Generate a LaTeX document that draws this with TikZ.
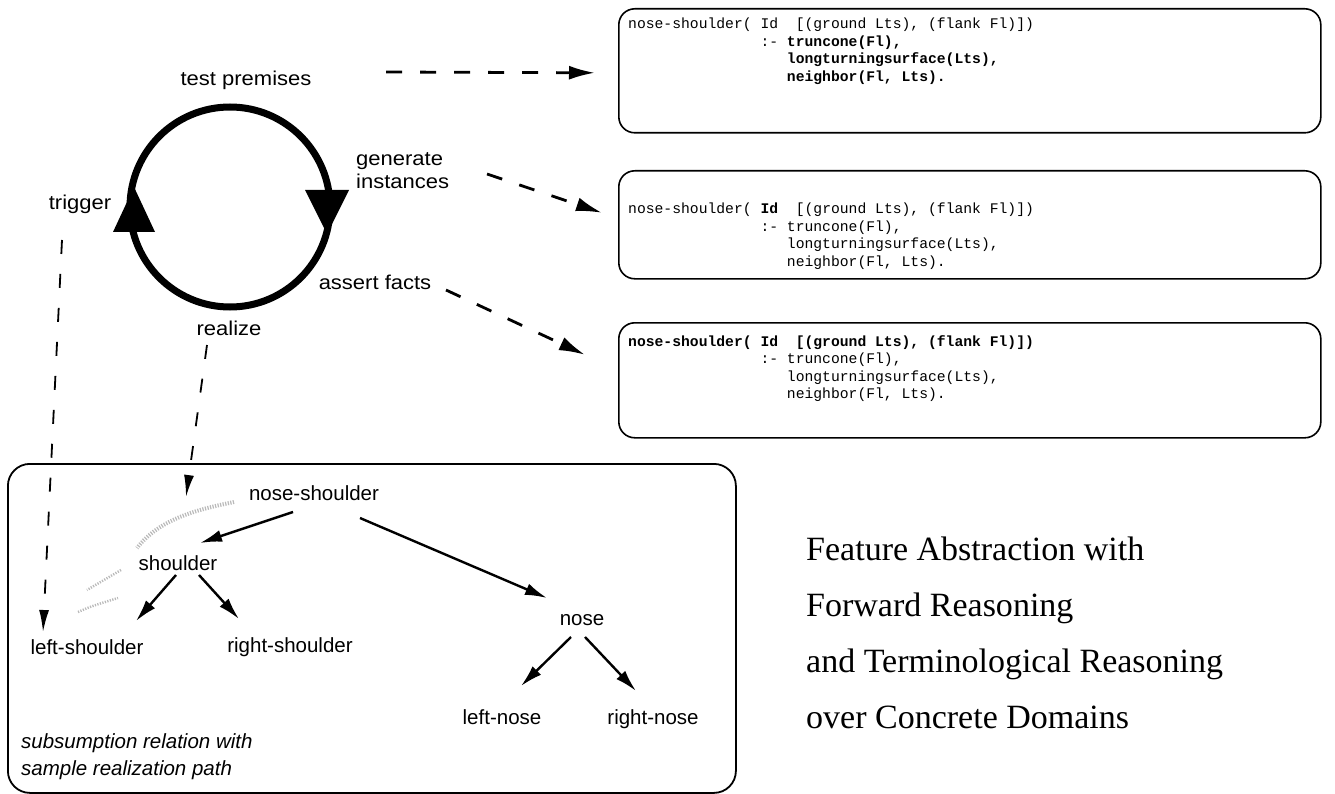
\documentclass[tikz,border=0pt]{standalone}
\usepackage{fontspec}
\setmainfont{Liberation Serif}
\setsansfont{Liberation Sans}
\setmonofont{Liberation Mono}
\newfontfamily\cyclefont[FakeStretch=1.1]{Liberation Sans}
\usetikzlibrary{arrows.meta,calc}

\begin{document}
\begin{tikzpicture}[x=1pt,y=-1pt,
  lbl/.style={font=\cyclefont\fontsize{20}{23}\selectfont, inner sep=0pt},
  tlbl/.style={font=\sffamily\fontsize{20.5}{24}\selectfont, inner sep=0pt},
  code/.style={font=\ttfamily\fontsize{14.7}{17.7}\selectfont, anchor=base west, inner sep=0pt},
  ttl/.style={font=\rmfamily\fontsize{34}{56}\selectfont, anchor=base west, inner sep=0pt},
  rulebox/.style={draw, line width=1.6pt, rounded corners=16pt, minimum width=702pt,
                  anchor=north west, inner sep=0pt},
  flow/.style={dash pattern=on 16pt off 18pt, line width=2.8pt,
               -{Latex[length=26pt,width=14pt]}},
  trace/.style={dash pattern=on 14pt off 20pt, line width=1.8pt,
                -{Latex[length=22pt,width=10pt]}},
  isa/.style={line width=2.4pt, -{Latex[length=22pt,width=12pt]}},
  realpath/.style={gray!55, line width=4pt, dash pattern=on 1.2pt off 1.4pt},
]
\useasboundingbox (0,0) rectangle (1335,794);

% ---- processing cycle ----
\node[circle, draw, line width=7pt, minimum size=200pt, inner sep=0pt] (cyc) at (230,207) {};
\fill (134,187) -- (113,232) -- (155,232) -- cycle;
\fill (327,234) -- (305,190) -- (349,190) -- cycle;

\node[lbl] (tp) at (246,80) {test premises};
\node[lbl, align=left, anchor=west] (gi) at (356,171) {generate\\instances};
\node[lbl] (tr) at (80,204) {trigger};
\node[lbl] (af) at (375,282) {assert facts};
\node[lbl] (re) at (229,328) {realize};

% ---- rule boxes ----
\node[rulebox, minimum height=124pt] (b1) at (618,8) {};
\node[rulebox, minimum height=108pt] (b2) at (618,170) {};
\node[rulebox, minimum height=115pt] (b3) at (618,322) {};

\node[code] (b1a) at (628,29) {nose-shoulder( Id~~[(ground Lts), (flank Fl)])};
\node[code] (b1b) at (628,46.5) {\hspace*{9em}:- \textbf{truncone(Fl),}};
\node[code] (b1c) at (628,64) {\hspace*{10.8em}\textbf{longturningsurface(Lts),}};
\node[code] (b1d) at (628,81.5) {\hspace*{10.8em}\textbf{neighbor(Fl, Lts).}};

\node[code] (b2a) at (628,214) {nose-shoulder( \textbf{Id}~~[(ground Lts), (flank Fl)])};
\node[code] (b2b) at (628,231.5) {\hspace*{9em}:- truncone(Fl),};
\node[code] (b2c) at (628,249) {\hspace*{10.8em}longturningsurface(Lts),};
\node[code] (b2d) at (628,266.5) {\hspace*{10.8em}neighbor(Fl, Lts).};

\node[code] (b3a) at (628,346) {\textbf{nose-shoulder( Id~~[(ground Lts), (flank Fl)])}};
\node[code] (b3b) at (628,363.5) {\hspace*{9em}:- truncone(Fl),};
\node[code] (b3c) at (628,381) {\hspace*{10.8em}longturningsurface(Lts),};
\node[code] (b3d) at (628,398.5) {\hspace*{10.8em}neighbor(Fl, Lts).};

\draw[flow] ($(tp)+(140,-8)$) -- ($(b1.west)+(-23,2)$);
\draw[flow] ($(gi.west)+(131,3)$) -- ($(b2.west)+(-16,-12)$);
\draw[flow] ($(af)+(71,8)$) -- ($(b3.west)+(-33,-25.5)$);

% ---- subsumption hierarchy ----
\node[draw, line width=1.8pt, rounded corners=22pt, minimum width=728pt, minimum height=329pt,
      anchor=north west, inner sep=0pt] (tree) at (7,463) {};

\node[tlbl] (ns) at (314,493) {nose-shoulder};
\node[tlbl] (sh) at (178,563) {shoulder};
\node[tlbl] (ls) at (87,647) {left-shoulder};
\node[tlbl] (rs) at (290,647) {right-shoulder};
\node[tlbl] (no) at (582,620) {nose};
\node[tlbl] (ln) at (502,717) {left-nose};
\node[tlbl] (rn) at (653,719) {right-nose};

\node[font=\sffamily\itshape\fontsize{20.5}{27}\selectfont, align=left, anchor=west, inner sep=0pt]
  (cap) at (21,757) {subsumption relation with\\sample realization path};

% realization path sketched through the hierarchy
\draw[realpath] (234,502) .. controls (200,509) and (160,518) .. (137,548);
\draw[realpath, line width=2.5pt] (121,570) -- (87,590);
\draw[realpath, line width=2.5pt] (78,612) .. controls (92,606) .. (118,598);

\draw[isa] ($(ns)+(-21,19)$) -- ($(sh)+(22,-20)$);
\draw[isa] ($(ns)+(46,25)$) -- ($(no)+(-35,-22)$);
\draw[isa] ($(sh)+(-2,12)$) -- ($(ls)+(49,-26)$);
\draw[isa] ($(sh)+(21,12)$) -- ($(rs)+(-51,-28)$);
\draw[isa] ($(no)+(-11,17)$) -- ($(ln)+(19,-31)$);
\draw[isa] ($(no)+(3,17)$) -- ($(rn)+(-17,-28)$);

\draw[trace] ($(tr)+(-18,36)$) -- ($(ls)+(-44,-15)$);
\draw[trace] ($(re)+(-22,17)$) -- ($(sh)+(8,-66)$);

% ---- title ----
\node[ttl] (t1) at (806,560) {Feature Abstraction with};
\node[ttl] (t2) at (806,616) {Forward Reasoning};
\node[ttl] (t3) at (806,672) {and Terminological Reasoning};
\node[ttl] (t4) at (806,728) {over Concrete Domains};
\end{tikzpicture}
\end{document}
